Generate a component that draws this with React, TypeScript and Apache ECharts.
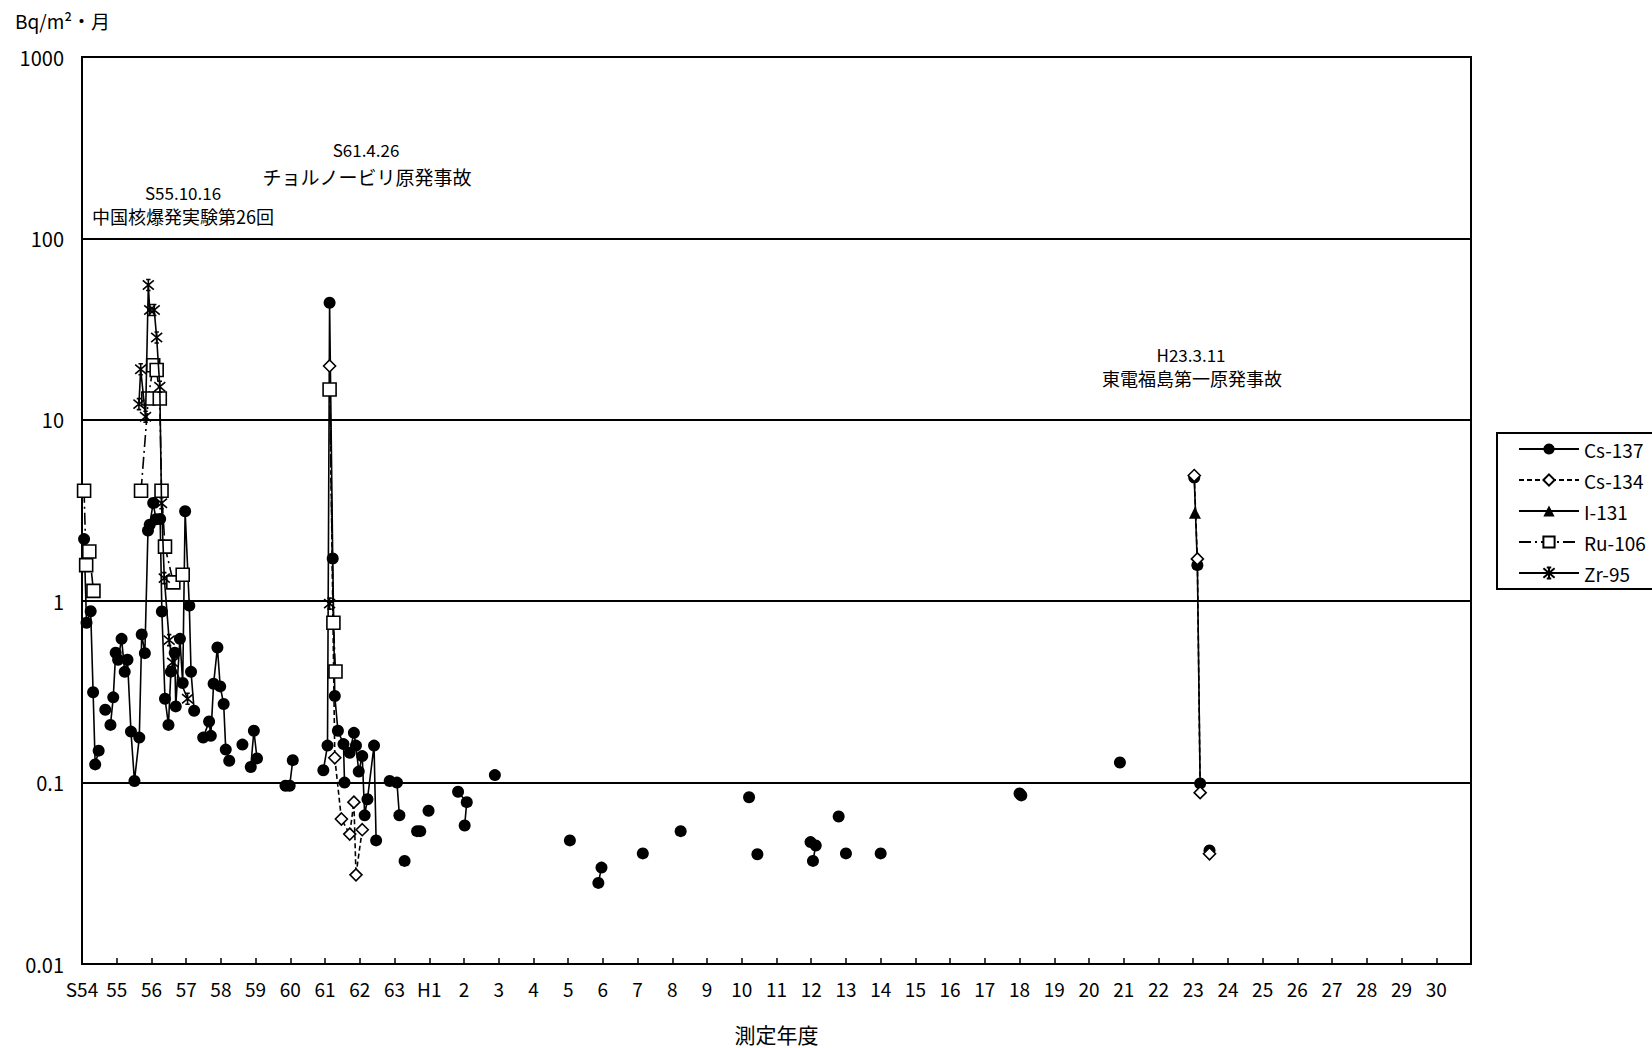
import React, { useEffect, useRef } from "react";
import * as echarts from "echarts";

const FONT = '"Noto Sans CJK JP", "Noto Sans", sans-serif';

// x = year index (0 = S54, 10 = H1, 39 = H30); null = break in the line
const cs137: ([number, number] | null)[] = [
  [0.06, 2.2], [0.13, 0.76], [0.25, 0.88], [0.32, 0.315], [0.38, 0.126], [0.48, 0.15], null,
  [0.67, 0.252], null,
  [0.82, 0.208], [0.9, 0.295], [0.97, 0.52], [1.04, 0.476], [1.14, 0.62], [1.23, 0.408], [1.31, 0.476],
  [1.41, 0.191], [1.51, 0.102], [1.65, 0.177], [1.72, 0.656], [1.81, 0.517], [1.9, 2.45], [1.95, 2.64],
  [2.05, 3.48], [2.13, 2.83], [2.25, 2.84], [2.3, 0.877], [2.39, 0.29], [2.49, 0.208], [2.56, 0.409],
  [2.67, 0.52], [2.7, 0.263], [2.82, 0.62], [2.9, 0.354], [2.97, 3.13], [3.09, 0.945], [3.14, 0.408],
  [3.23, 0.249], null,
  [3.49, 0.177], [3.66, 0.217], [3.71, 0.181], [3.79, 0.351], [3.9, 0.556], [3.98, 0.339], [4.08, 0.271],
  [4.14, 0.152], [4.24, 0.132], null,
  [4.62, 0.162], null,
  [4.86, 0.122], [4.95, 0.193], [5.04, 0.136], null,
  [5.86, 0.096], [5.98, 0.096], [6.07, 0.133], null,
  [6.95, 0.117], [7.07, 0.16], [7.13, 44.2], [7.22, 1.72], [7.28, 0.3], [7.37, 0.193], [7.53, 0.163],
  [7.56, 0.1], null,
  [7.71, 0.146], [7.83, 0.188], [7.89, 0.16], [7.97, 0.115], [8.07, 0.14], [8.14, 0.066], [8.22, 0.081],
  [8.41, 0.16], [8.47, 0.048], null,
  [8.86, 0.102], [9.07, 0.1], [9.14, 0.066], null,
  [9.29, 0.037], null,
  [9.65, 0.054], [9.74, 0.054], null,
  [9.98, 0.07], null,
  [10.83, 0.089], [11.08, 0.078], [11.02, 0.058], null,
  [11.89, 0.11], null,
  [14.05, 0.048], null,
  [14.87, 0.028], [14.96, 0.034], null,
  [16.15, 0.0407], null,
  [17.24, 0.054], null,
  [19.21, 0.083], null,
  [19.45, 0.0403], null,
  [20.98, 0.047], [21.13, 0.045], [21.05, 0.037], null,
  [21.79, 0.065], null,
  [22.0, 0.0407], null,
  [23.0, 0.0407], null,
  [27.0, 0.087], [27.05, 0.085], null,
  [29.89, 0.129], null,
  [32.03, 4.8], [32.12, 1.58], [32.2, 0.099], null,
  [32.47, 0.0423],
];

const cs134: ([number, number] | null)[] = [
  [7.13, 19.8], [7.28, 0.137], [7.47, 0.063], [7.71, 0.052], [7.83, 0.078], [7.89, 0.031], [8.07, 0.055], null,
  [32.03, 4.93], [32.12, 1.71], [32.2, 0.088], null,
  [32.47, 0.0405],
];

const i131: ([number, number] | null)[] = [
  [32.05, 3.07],
];

const ru106: ([number, number] | null)[] = [
  [0.06, 4.06], [0.12, 1.58], [0.21, 1.88], [0.33, 1.14], null,
  [1.7, 4.06], [1.91, 13.1], [2.05, 20.0], [2.15, 18.8], [2.24, 13.1], [2.29, 4.06], [2.39, 2.0],
  [2.63, 1.27], [2.9, 1.4], null,
  [7.13, 14.7], [7.24, 0.76], [7.3, 0.41],
];

const zr95: ([number, number] | null)[] = [
  [1.64, 12.2], [1.69, 19.0], [1.83, 10.4], [1.91, 55.4], [1.95, 40.3], [2.08, 40.3], [2.15, 28.4],
  [2.24, 15.2], [2.29, 3.47], [2.37, 1.34], [2.51, 0.61], [2.61, 0.46], [3.04, 0.29], null,
  [7.13, 0.97],
];

const yTickLabels = ["0.01", "0.1", "1", "10", "100", "1000"];

const xTickLabels: string[] = [
  "S54", "55", "56", "57", "58", "59", "60", "61", "62", "63",
  "H1", "2", "3", "4", "5", "6", "7", "8", "9", "10",
  "11", "12", "13", "14", "15", "16", "17", "18", "19", "20",
  "21", "22", "23", "24", "25", "26", "27", "28", "29", "30", "",
];

const annotations = [
  { text: "S55.10.16", x: 183, y: 192, size: 17 },
  { text: "中国核爆発実験第26回", x: 183, y: 216, size: 18 },
  { text: "S61.4.26", x: 366, y: 149, size: 17 },
  { text: "チョルノービリ原発事故", x: 367, y: 176, size: 19 },
  { text: "H23.3.11", x: 1191, y: 354, size: 17 },
  { text: "東電福島第一原発事故", x: 1192, y: 378, size: 18 },
];

const toData = (arr: ([number, number] | null)[]) =>
  arr.map((p) => (p === null ? ["-", "-"] : p));

const STAR = "path://M0 0 L10 10 M10 0 L0 10 M5 -1 L5 11 M3 -1 L7 -1 M3 11 L7 11";

export default function App() {
  const ref = useRef<HTMLDivElement>(null);

  useEffect(() => {
    if (!ref.current) return;
    const chart = echarts.init(ref.current, undefined, { renderer: "svg" });

    const base = {
      type: "line",
      showAllSymbol: true,
      connectNulls: false,
      animation: false,
      emphasis: { disabled: true },
    };

    chart.setOption({
      animation: false,
      backgroundColor: "#fff",
      grid: {
        left: 82,
        right: 181,
        top: 57,
        bottom: 84,
        show: true,
        borderColor: "#000",
        borderWidth: 2,
        backgroundColor: "transparent",
        containLabel: false,
        outerBoundsMode: "none",
      },
      legend: {
        orient: "vertical",
        left: 1497,
        top: 433,
        itemWidth: 60,
        itemHeight: 14,
        itemGap: 11,
        padding: [6, 40, 6, 21],
        borderColor: "#000",
        borderWidth: 2,
        backgroundColor: "#fff",
        textStyle: { fontSize: 19, fontFamily: FONT, color: "#000", lineHeight: 20 },
        data: ["Cs-137", "Cs-134", "I-131", "Ru-106", "Zr-95"],
      },
      xAxis: {
        type: "value",
        min: 0,
        max: 40,
        interval: 1,
        name: "測定年度",
        nameLocation: "middle",
        nameGap: 59,
        nameTextStyle: { fontSize: 21, fontFamily: FONT, color: "#000" },
        axisLine: { show: true, lineStyle: { color: "#000", width: 2 } },
        axisTick: { show: true, inside: true, length: 6, lineStyle: { color: "#000", width: 1.5 } },
        splitLine: { show: false },
        axisLabel: {
          fontSize: 19,
          fontFamily: FONT,
          color: "#000",
          margin: 15,
          showMinLabel: true,
          showMaxLabel: true,
          formatter: (v: number) => xTickLabels[Math.round(v)] ?? "",
        },
      },
      yAxis: {
        type: "log",
        logBase: 10,
        min: 0.01,
        max: 1000,
        axisLine: { show: true, lineStyle: { color: "#000", width: 2 } },
        axisTick: { show: false },
        splitLine: { show: true, lineStyle: { color: "#000", width: 2 } },
        axisLabel: {
          fontSize: 20,
          fontFamily: FONT,
          color: "#000",
          margin: 18,
          formatter: (v: number) => yTickLabels[Math.round(Math.log10(v)) + 2] ?? "",
        },
      },
      graphic: [
        {
          type: "text",
          left: 15,
          top: 11,
          style: { text: "Bq/m²・月", font: `19px ${FONT}`, fill: "#000" },
        },
        ...annotations.map((a) => ({
          type: "text",
          x: a.x,
          y: a.y,
          style: {
            text: a.text,
            font: `${a.size}px ${FONT}`,
            fill: "#000",
            textAlign: "center",
            textVerticalAlign: "middle",
          },
        })),
      ],
      series: [
        {
          ...base,
          name: "Cs-137",
          data: toData(cs137),
          symbol: "circle",
          symbolSize: 12,
          itemStyle: { color: "#000" },
          lineStyle: { color: "#000", width: 1.6, type: "solid" },
          z: 2,
        },
        {
          ...base,
          name: "Cs-134",
          data: toData(cs134),
          symbol: "diamond",
          symbolSize: 12,
          itemStyle: { color: "#fff", borderColor: "#000", borderWidth: 1.6 },
          lineStyle: { color: "#000", width: 1.6, type: [5, 3] },
          z: 3,
        },
        {
          ...base,
          name: "I-131",
          data: toData(i131),
          symbol: "triangle",
          symbolSize: 12,
          itemStyle: { color: "#000" },
          lineStyle: { color: "#000", width: 1.6, type: "solid" },
          z: 4,
        },
        {
          ...base,
          name: "Ru-106",
          data: toData(ru106),
          symbol: "rect",
          symbolSize: 13,
          itemStyle: { color: "#fff", borderColor: "#000", borderWidth: 1.6 },
          lineStyle: { color: "#000", width: 1.6, type: [12, 4, 2, 4] },
          z: 5,
        },
        {
          ...base,
          name: "Zr-95",
          data: toData(zr95),
          symbol: STAR,
          symbolSize: 11,
          itemStyle: { color: "rgba(0,0,0,0)", borderColor: "#000", borderWidth: 1.6 },
          lineStyle: { color: "#000", width: 1.6, type: "solid" },
          z: 6,
        },
      ],
    });

    return () => chart.dispose();
  }, []);

  return (
    <div
      ref={ref}
      style={{ position: "fixed", left: 0, top: 0, width: 1652, height: 1048, background: "#fff" }}
    />
  );
}
